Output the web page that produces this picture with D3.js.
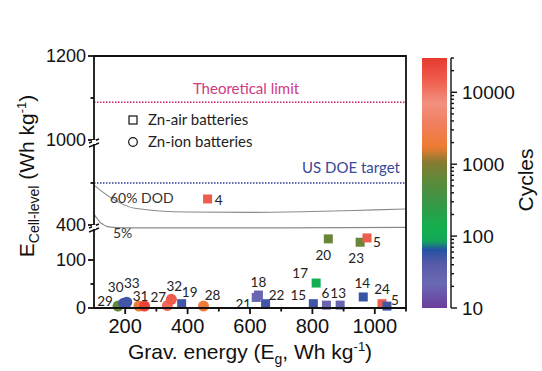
<!DOCTYPE html>
<html>
<head>
<meta charset="utf-8">
<script src="https://cdn.jsdelivr.net/npm/d3@7"></script>
<style>
  body { margin: 0; background: #fff; }
  svg { display: block; }
</style>
</head>
<body>
<svg width="542" height="371"></svg>
<script>
// data points: label, gravimetric energy, cell-level energy, cycles, battery type
var ids    = ["29", "30", "33", "", "31", "27", "32", "19", "28", "21", "18", "22", "15", "6", "13", "17", "14", "24", "5", "20", "23", "5", "4"];
var grav   = [177, 195, 205, 244, 262, 335, 348, 381, 451, 620, 627, 650, 803, 845, 889, 812, 963, 1023, 1039, 851, 953, 975, 464];
var cell   = [4, 10, 12, 4, 4, 5, 18, 9, 4, 22, 27, 9, 9, 6, 6, 52, 23, 9, 4, 144, 137, 146, 462];
var cycles = [600, 50, 50, 2000, 25000, 12000, 15000, 50, 2000, 20, 20, 50, 50, 20, 20, 120, 55, 15000, 50, 700, 700, 15000, 15000];
var kind   = ["ion", "ion", "ion", "ion", "ion", "ion", "ion", "air", "ion", "air", "air", "air", "air", "air", "air", "air", "air", "air", "air", "air", "air", "air", "air"];

// depth-of-discharge curves
var dodX  = [100, 150, 230, 400, 600, 800, 1000, 1100];
var dod60 = [495, 467, 440, 431, 430, 432, 436, 438];
var fiveX = [100, 110, 120, 130, 140, 160, 200, 400, 700, 1100];
var dod5  = [426, 415, 406, 401, 170, 168, 167, 167, 167, 168];

var theoretical = 1090, doeTarget = 500;

var xMajor = [200, 400, 600, 800, 1000], xMinor = [300, 500, 700, 900, 1100];
var yMajor = [0, 100, 400, 1000, 1200], yMinor = [50, 500, 1100];
var yBreaks = [400, 1000];

// colour bar
var cbStops  = [10, 22, 40, 65, 85, 130, 300, 600, 1100, 1700, 3500, 7000, 15000, 30000];
var cbColors = ["#6b3d9a", "#6a6ab4", "#5a5aa8", "#2452a2", "#14a65a", "#12b04e", "#3a9646", "#5e8a3a", "#8a7a32", "#ee7a30", "#f07e5c", "#f29080", "#ee5c4c", "#e63a30"];
var cbMajor = [10, 100, 1000, 10000];

var svg = d3.select("svg");
var axisFont = "'Liberation Sans', Arial, sans-serif",
    noteFont = "Lato, 'Open Sans', sans-serif";

var x = d3.scaleLinear().domain([100, 1100]).range([94, 406]);
// broken y axis: 0-170 | 400-600 | 1000-1200
var y = d3.scaleLinear()
    .domain([0, 170, 400, 600, 1000, 1200])
    .range([308, 226.4, 225, 141, 140, 56]);
var color = d3.scaleLog().domain(cbStops).range(cbColors).clamp(true);

// reference lines
svg.append("line")
    .attr("x1", x(100)).attr("x2", x(1100))
    .attr("y1", y(theoretical)).attr("y2", y(theoretical))
    .attr("stroke", "#d4206e").attr("stroke-width", 1.6)
    .attr("stroke-dasharray", "1.5,1.5");
svg.append("line")
    .attr("x1", x(100)).attr("x2", x(1100))
    .attr("y1", y(doeTarget)).attr("y2", y(doeTarget))
    .attr("stroke", "#2a3a94").attr("stroke-width", 1.6)
    .attr("stroke-dasharray", "1.5,1.5");

svg.append("text").attr("x", 246).attr("y", 94)
    .attr("text-anchor", "middle")
    .style("font", "15px " + noteFont).attr("fill", "#d03a82")
    .text("Theoretical limit");
svg.append("text").attr("x", 400).attr("y", 173)
    .attr("text-anchor", "end")
    .style("font", "15px " + noteFont).attr("fill", "#3a4896")
    .text("US DOE target");

// curves
var curve = d3.line()
    .x(function(d) { return x(d[0]); })
    .y(function(d) { return y(d[1]); })
    .curve(d3.curveMonotoneX);

svg.append("path")
    .datum(d3.zip(dodX, dod60))
    .attr("d", curve)
    .attr("fill", "none").attr("stroke", "#8a8a8a").attr("stroke-width", 1.1);
svg.append("path")
    .datum(d3.zip(fiveX, dod5))
    .attr("d", curve)
    .attr("fill", "none").attr("stroke", "#8a8a8a").attr("stroke-width", 1.1);

svg.append("text").attr("x", 110).attr("y", 203)
    .style("font", "14px " + noteFont).attr("fill", "#333")
    .text("60% DOD");
svg.append("text").attr("x", 113).attr("y", 238)
    .style("font", "14px " + noteFont).attr("fill", "#333")
    .text("5%");

// legend
svg.append("rect").attr("x", 129).attr("y", 116).attr("width", 8).attr("height", 8)
    .attr("fill", "none").attr("stroke", "#111").attr("stroke-width", 1.2);
svg.append("circle").attr("cx", 133).attr("cy", 142).attr("r", 4.3)
    .attr("fill", "none").attr("stroke", "#111").attr("stroke-width", 1.2);
svg.append("text").attr("x", 148).attr("y", 125)
    .style("font", "15px " + noteFont).attr("fill", "#222")
    .text("Zn-air batteries");
svg.append("text").attr("x", 148).attr("y", 147)
    .style("font", "15px " + noteFont).attr("fill", "#222")
    .text("Zn-ion batteries");

// points
var pts = d3.range(ids.length).map(function(i) {
  return {id: ids[i], g: grav[i], e: cell[i], c: cycles[i], k: kind[i]};
});
var ptLayer = svg.append("g");
pts.forEach(function(d) {
  if (d.k === "air") {
    ptLayer.append("rect")
        .attr("x", x(d.g) - 4.5).attr("y", y(d.e) - 4.5)
        .attr("width", 9).attr("height", 9)
        .attr("fill", color(d.c));
  } else {
    ptLayer.append("circle")
        .attr("cx", x(d.g)).attr("cy", y(d.e)).attr("r", 5.5)
        .attr("fill", color(d.c));
  }
});

// label offsets in pixels, by point index
var offsets = [[-13, -5], [-8, -16], [5, -19], [0, 0], [-4, -10], [-9, -8], [3, -13], [8, -12], [9, -11],
               [-13, 7], [0, -13], [11, -9], [-15, -9], [-1, -12], [-2, -12], [-16, -10], [-1, -14], [0, -15],
               [8, -6], [-5, 16], [-4, 16], [10, 4], [11, 1]];
pts.forEach(function(d, i) {
  if (!d.id) return;
  svg.append("text")
      .attr("x", x(d.g) + offsets[i][0])
      .attr("y", y(d.e) + offsets[i][1])
      .attr("dy", "0.36em")
      .attr("text-anchor", "middle")
      .style("font", "13.5px " + noteFont).attr("fill", "#222")
      .text(d.id);
});

// frame and axes
var ax = svg.append("g").attr("stroke", "#111").attr("stroke-width", 1.8).attr("fill", "none");
ax.append("path").attr("d", "M" + x(100) + "," + y(1200) + "H" + x(1100) + "V" + y(0));
ax.append("line").attr("x1", x(100)).attr("x2", x(1100)).attr("y1", y(0)).attr("y2", y(0));
ax.append("line").attr("x1", x(100)).attr("x2", x(100)).attr("y1", y(0)).attr("y2", y(1200));

xMajor.forEach(function(v) {
  ax.append("line").attr("x1", x(v)).attr("x2", x(v)).attr("y1", y(0)).attr("y2", y(0) + 6);
  svg.append("text").attr("x", x(v)).attr("y", 333)
      .attr("text-anchor", "middle")
      .style("font", "20px " + axisFont).attr("fill", "#111")
      .text(v);
});
xMinor.forEach(function(v) {
  ax.append("line").attr("x1", x(v)).attr("x2", x(v)).attr("y1", y(0)).attr("y2", y(0) + 3.5);
});
yMajor.forEach(function(v) {
  ax.append("line").attr("x1", x(100) - 6).attr("x2", x(100)).attr("y1", y(v)).attr("y2", y(v));
  svg.append("text").attr("x", 86).attr("y", y(v))
      .attr("dy", "0.36em")
      .attr("text-anchor", "end")
      .style("font", "18px " + axisFont).attr("fill", "#111")
      .text(v);
});
yMinor.forEach(function(v) {
  ax.append("line").attr("x1", x(100) - 3.5).attr("x2", x(100)).attr("y1", y(v)).attr("y2", y(v));
});
yBreaks.forEach(function(v) {
  var yb = y(v) + 2, x0 = x(100);
  svg.append("rect").attr("x", x0 - 2).attr("y", yb - 2).attr("width", 4).attr("height", 4).attr("fill", "#fff");
  ax.append("line").attr("x1", x0 - 5).attr("x2", x0 + 5).attr("y1", yb + 1).attr("y2", yb - 3).attr("stroke-width", 1.4);
  ax.append("line").attr("x1", x0 - 5).attr("x2", x0 + 5).attr("y1", yb + 5).attr("y2", yb + 1).attr("stroke-width", 1.4);
});

// axis titles
var xt = svg.append("text").attr("x", 250).attr("y", 359)
    .attr("text-anchor", "middle")
    .style("font", "21px " + axisFont).attr("fill", "#111");
xt.append("tspan").text("Grav. energy (E");
xt.append("tspan").attr("dy", 5).style("font-size", "14px").text("g");
xt.append("tspan").attr("dy", -5).text(", Wh kg");
xt.append("tspan").attr("dy", -8).style("font-size", "13px").text("-1");
xt.append("tspan").attr("dy", 8).text(")");

var yt = svg.append("text")
    .attr("transform", "translate(34,176) rotate(-90)")
    .attr("text-anchor", "middle")
    .style("font", "21px " + axisFont).attr("fill", "#111");
yt.append("tspan").text("E");
yt.append("tspan").attr("dy", 5).style("font-size", "14px").text("Cell-level");
yt.append("tspan").attr("dy", -5).text(" (Wh kg");
yt.append("tspan").attr("dy", -8).style("font-size", "13px").text("-1");
yt.append("tspan").attr("dy", 8).text(")");

// colour bar
var cb = d3.scaleLog().domain([10, 30000]).range([308, 58]);
var grad = svg.append("defs").append("linearGradient")
    .attr("id", "cbgrad").attr("x1", 0).attr("y1", 1).attr("x2", 0).attr("y2", 0);
d3.range(0, 61).forEach(function(i) {
  var t = i / 60;
  grad.append("stop")
      .attr("offset", t)
      .attr("stop-color", color(cb.invert(308 - t * 250)));
});
svg.append("rect").attr("x", 422).attr("y", 58).attr("width", 25).attr("height", 250)
    .attr("fill", "url(#cbgrad)");

var cbAx = svg.append("g").attr("stroke", "#111").attr("stroke-width", 1.4);
cbAx.append("line").attr("x1", 451).attr("x2", 451).attr("y1", 58).attr("y2", 308);
cb.ticks().forEach(function(v) {
  var major = cbMajor.indexOf(v) >= 0;
  cbAx.append("line").attr("x1", 451).attr("x2", 451 + (major ? 6 : 3))
      .attr("y1", cb(v)).attr("y2", cb(v));
});
cbMajor.forEach(function(v) {
  svg.append("text").attr("x", 462).attr("y", cb(v))
      .attr("dy", "0.36em")
      .style("font", "19px " + axisFont).attr("fill", "#111")
      .text(v);
});
svg.append("text")
    .attr("transform", "translate(533,180) rotate(-90)")
    .attr("text-anchor", "middle")
    .style("font", "21px " + axisFont).attr("fill", "#111")
    .text("Cycles");
</script>
</body>
</html>
